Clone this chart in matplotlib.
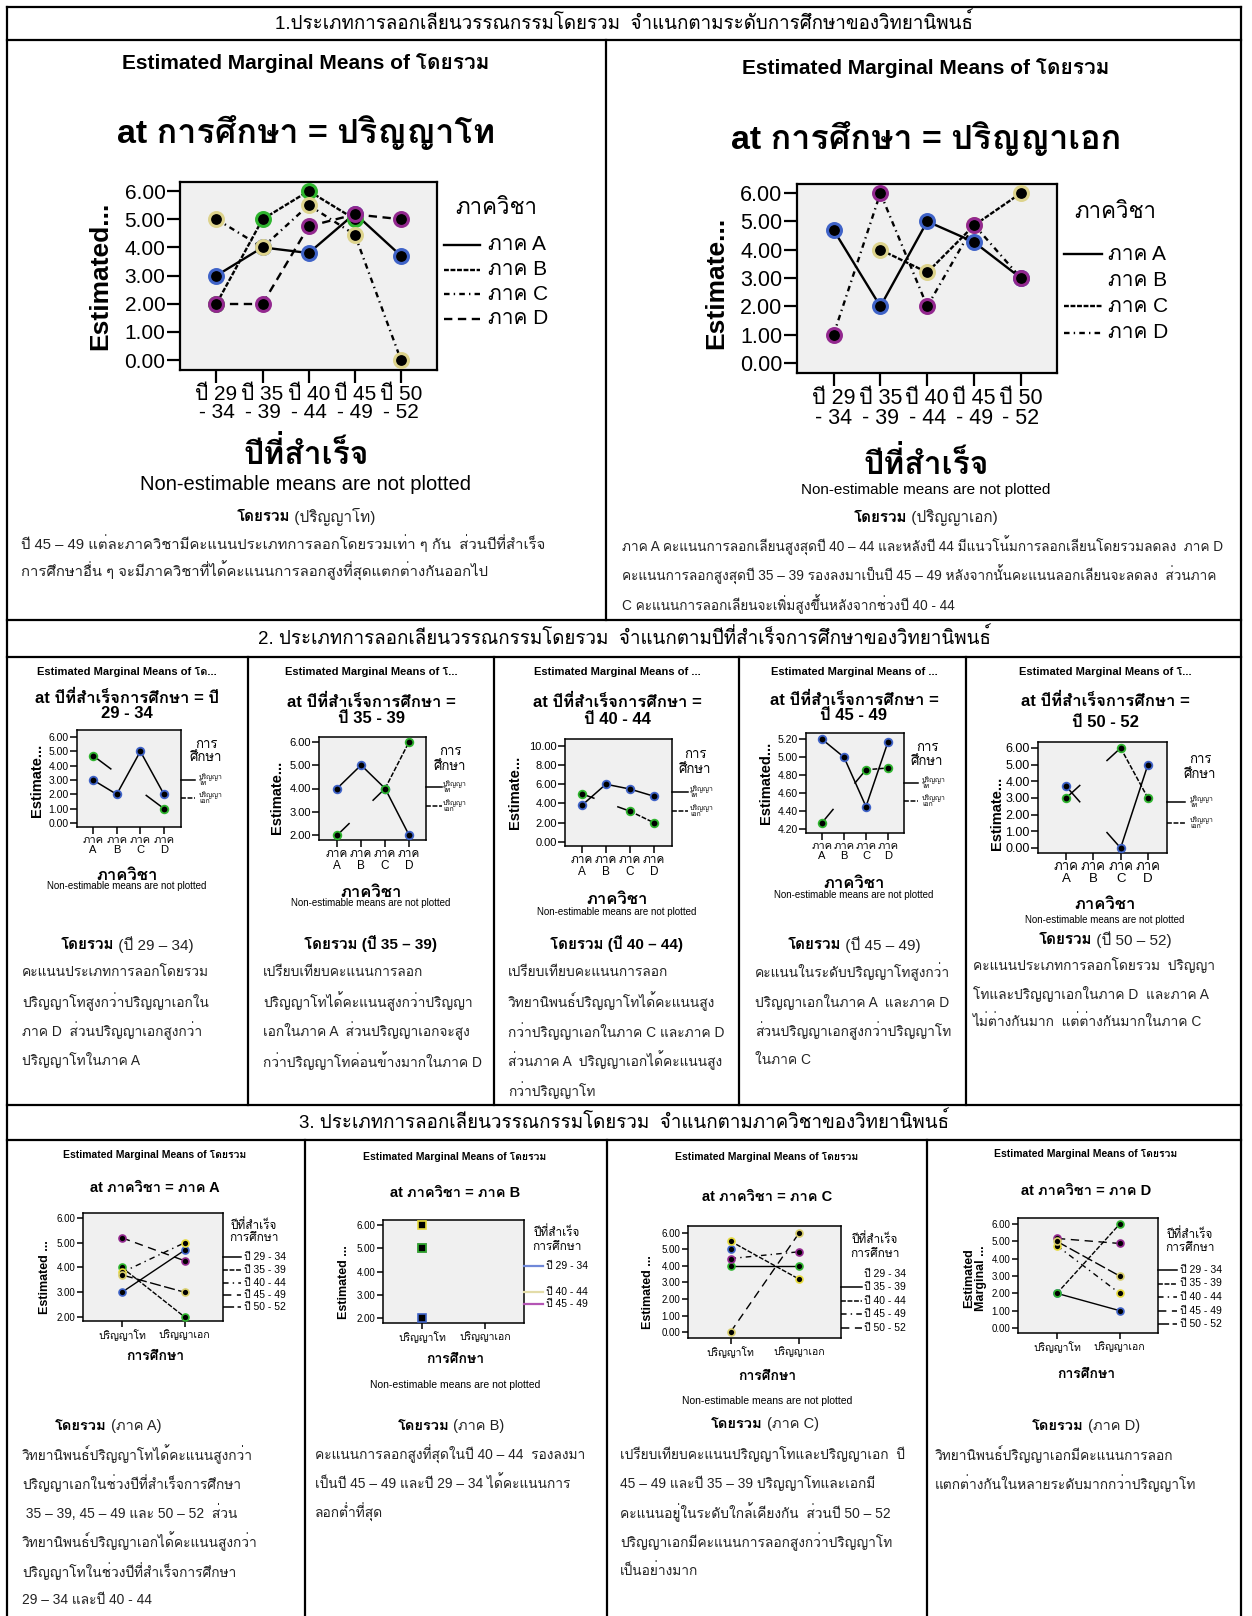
import numpy as np
import matplotlib
matplotlib.use("Agg")
import matplotlib.pyplot as plt
from matplotlib import font_manager
from matplotlib.ft2font import FT2Font
from matplotlib.lines import Line2D


def thai_families():
    # any installed face that really has Thai glyphs
    found = []
    for entry in font_manager.fontManager.ttflist:
        if entry.name in found:
            continue
        try:
            if 0x0E01 in FT2Font(entry.fname).get_charmap():
                found.append(entry.name)
        except Exception:
            pass
    return found


plt.rcParams["font.family"] = ["Liberation Sans"] + thai_families() + ["DejaVu Sans"]
plt.rcParams["lines.scale_dashes"] = False

nan = np.nan

years = ["ปี 29 - 34", "ปี 35 - 39", "ปี 40 - 44", "ปี 45 - 49", "ปี 50 - 52"]
depts = ["ภาค A", "ภาค B", "ภาค C", "ภาค D"]
degrees = ["ปริญญาโท", "ปริญญาเอก"]

# estimated marginal means of โดยรวม, one list per department, by year
master_A = [3.00, 4.00, 3.80, 5.20, 3.70]
master_B = [2.00, 5.00, 6.00, 5.00, nan]
master_C = [5.00, 4.00, 5.50, 4.45, 0.00]
master_D = [2.00, 2.00, 4.75, 5.17, 5.00]
doctor_A = [4.70, 2.00, 5.00, 4.27, 3.00]
doctor_B = [nan, nan, nan, nan, nan]
doctor_C = [nan, 4.00, 3.20, 4.86, 6.00]
doctor_D = [1.00, 6.00, 2.00, 4.88, 3.00]

master = np.array([master_A, master_B, master_C, master_D])
doctor = np.array([doctor_A, doctor_B, doctor_C, doctor_D])

dept_colors = ["#3f63c8", "#2fb52f", "#ddd38c", "#93288f"]
degree_colors = ["#3f63c8", "#2fb52f"]
year_colors = ["#3f63c8", "#2fb52f", "#e6da3a", "#93288f", "#d8cd6a"]
line_styles = ["-", (0, (3.5, 1.2)), (0, (4, 3, 1, 3)), (0, (6, 4)), (0, (8, 2.5))]

sec_titles = [
    "1.ประเภทการลอกเลียนวรรณกรรมโดยรวม  จำแนกตามระดับการศึกษาของวิทยานิพนธ์",
    "2. ประเภทการลอกเลียนวรรณกรรมโดยรวม  จำแนกตามปีที่สำเร็จการศึกษาของวิทยานิพนธ์",
    "3. ประเภทการลอกเลียนวรรณกรรมโดยรวม  จำแนกตามภาควิชาของวิทยานิพนธ์",
]

s1_notes = [
    ["ปี 45 – 49 แต่ละภาควิชามีคะแนนประเภทการลอกโดยรวมเท่า ๆ กัน  ส่วนปีที่สำเร็จ",
     "การศึกษาอื่น ๆ จะมีภาควิชาที่ได้คะแนนการลอกสูงที่สุดแตกต่างกันออกไป"],
    ["ภาค A คะแนนการลอกเลียนสูงสุดปี 40 – 44 และหลังปี 44 มีแนวโน้มการลอกเลียนโดยรวมลดลง  ภาค D",
     "คะแนนการลอกสูงสุดปี 35 – 39 รองลงมาเป็นปี 45 – 49 หลังจากนั้นคะแนนลอกเลียนจะลดลง  ส่วนภาค",
     "C คะแนนการลอกเลียนจะเพิ่มสูงขึ้นหลังจากช่วงปี 40 - 44"],
]
s2_notes = [
    ["คะแนนประเภทการลอกโดยรวม", "ปริญญาโทสูงกว่าปริญญาเอกใน",
     "ภาค D  ส่วนปริญญาเอกสูงกว่า", "ปริญญาโทในภาค A"],
    ["เปรียบเทียบคะแนนการลอก", "ปริญญาโทได้คะแนนสูงกว่าปริญญา",
     "เอกในภาค A  ส่วนปริญญาเอกจะสูง", "กว่าปริญญาโทค่อนข้างมากในภาค D"],
    ["เปรียบเทียบคะแนนการลอก", "วิทยานิพนธ์ปริญญาโทได้คะแนนสูง",
     "กว่าปริญญาเอกในภาค C และภาค D", "ส่วนภาค A  ปริญญาเอกได้คะแนนสูง", "กว่าปริญญาโท"],
    ["คะแนนในระดับปริญญาโทสูงกว่า", "ปริญญาเอกในภาค A  และภาค D",
     "ส่วนปริญญาเอกสูงกว่าปริญญาโท", "ในภาค C"],
    ["คะแนนประเภทการลอกโดยรวม  ปริญญา", "โทและปริญญาเอกในภาค D  และภาค A",
     "ไม่ต่างกันมาก  แต่ต่างกันมากในภาค C"],
]
s3_notes = [
    ["วิทยานิพนธ์ปริญญาโทได้คะแนนสูงกว่า", "ปริญญาเอกในช่วงปีที่สำเร็จการศึกษา",
     " 35 – 39, 45 – 49 และ 50 – 52  ส่วน", "วิทยานิพนธ์ปริญญาเอกได้คะแนนสูงกว่า",
     "ปริญญาโทในช่วงปีที่สำเร็จการศึกษา", "29 – 34 และปี 40 - 44"],
    ["คะแนนการลอกสูงที่สุดในปี 40 – 44  รองลงมา", "เป็นปี 45 – 49 และปี 29 – 34 ได้คะแนนการ",
     "ลอกต่ำที่สุด"],
    ["เปรียบเทียบคะแนนปริญญาโทและปริญญาเอก  ปี", "45 – 49 และปี 35 – 39 ปริญญาโทและเอกมี",
     "คะแนนอยู่ในระดับใกล้เคียงกัน  ส่วนปี 50 – 52", "ปริญญาเอกมีคะแนนการลอกสูงกว่าปริญญาโท",
     "เป็นอย่างมาก"],
    ["วิทยานิพนธ์ปริญญาเอกมีคะแนนการลอก", "แตกต่างกันในหลายระดับมากกว่าปริญญาโท"],
]

W, H = 1252, 1616
fig = plt.figure(figsize=(W / 100, H / 100), dpi=100)
fig.patch.set_facecolor("white")
renderer = fig.canvas.get_renderer()
NONEST = "Non-estimable means are not plotted"
EMM = "Estimated Marginal Means of "


def fx(x):
    return x / W


def fy(y):
    return 1 - y / H


def text(x, y, s, size, ha="center", weight="normal", rot=0, color="black", ls=1.0):
    return fig.text(fx(x), fy(y), s, fontsize=size, ha=ha, va="center",
                    fontweight=weight, rotation=rot, color=color, linespacing=ls)


def hline(y, x0, x1, lw=1.6, color="black", style="-"):
    fig.add_artist(Line2D([fx(x0), fx(x1)], [fy(y), fy(y)], transform=fig.transFigure,
                          color=color, lw=lw, ls=style))


def vline(x, y0, y1, lw=1.6):
    fig.add_artist(Line2D([fx(x), fx(x)], [fy(y0), fy(y1)], transform=fig.transFigure,
                          color="black", lw=lw))


def caption(xc, y, bold, rest, size):
    t1 = text(0, y, bold, size, ha="left", weight="bold")
    t2 = text(0, y, rest, size, ha="left", color="#222222")
    w1 = t1.get_window_extent(renderer).width
    w2 = t2.get_window_extent(renderer).width if rest else 0
    x0 = xc - (w1 + w2) / 2
    t1.set_x(fx(x0))
    t2.set_x(fx(x0 + w1))


def paragraph(x, y0, dy, lines, size):
    for i, s in enumerate(lines):
        text(x, y0 + i * dy, s, size, ha="left", color="#222222")


def panel(box, xlim, ylim, yticks, xlabels, tsize, xtsize, tlen, spw):
    x0, y0, x1, y1 = box
    ax = fig.add_axes([fx(x0), fy(y1), (x1 - x0) / W, (y1 - y0) / H])
    ax.set_facecolor("#f0f0f0")
    ax.set_xlim(xlim)
    ax.set_ylim(ylim)
    ax.set_xticks(range(len(xlabels)))
    ax.set_xticklabels(xlabels, fontsize=xtsize, linespacing=0.95)
    ax.set_yticks(yticks)
    ax.set_yticklabels([f"{v:.2f}" for v in yticks], fontsize=tsize)
    ax.tick_params(length=tlen, width=spw, pad=1, direction="out")
    for sp in ax.spines.values():
        sp.set_linewidth(spw)
    return ax


def assign_styles(rows):
    out, k = [], 0
    for vals in rows:
        if np.sum(~np.isnan(np.asarray(vals, dtype=float))) > 1:
            out.append(line_styles[k])
            k += 1
        else:
            out.append(None)
    return out


def draw_series(ax, vals, style, color, ms, mew, lw, marker="o", z=3):
    vals = np.asarray(vals, dtype=float)
    xs = [i for i, v in enumerate(vals) if not np.isnan(v)]
    ys = [vals[i] for i in xs]
    if not xs:
        return
    if style is not None:
        for xa, xb, ya, yb in zip(xs[:-1], xs[1:], ys[:-1], ys[1:]):
            if xb - xa == 1:
                ax.plot([xa, xb], [ya, yb], color="black", lw=lw, ls=style, zorder=2)
            else:
                # across a missing category SPSS keeps only a short piece at each end
                for a, b in ((0, 0.25), (0.75, 1)):
                    ax.plot([xa + a * (xb - xa), xa + b * (xb - xa)],
                            [ya + a * (yb - ya), ya + b * (yb - ya)],
                            color="black", lw=lw, zorder=2)
    ax.plot(xs, ys, ls="none", marker=marker, ms=ms, mfc="black", mec=color,
            mew=mew, zorder=z, clip_on=False)


def legend_rows(ys, labels, styles, xl0, xl1, xt, size, lw, colors=None, ls=1.0):
    for i, (y, lab, st) in enumerate(zip(ys, labels, styles)):
        if st is not None:
            c = colors[i] if colors is not None else "black"
            hline(y, xl0, xl1, lw=lw, color=c, style=st)
        text(xt, y, lab, size, ha="left", ls=ls)


# ---------------- table grid ----------------
L, R = 7, 1241
hline(7, L, R)
for y in (40, 620, 657, 1105, 1140):
    hline(y, L, R)
vline(L, 7, H)
vline(R, 7, H)
vline(606, 40, 620)
for x in (248, 494, 739, 966):
    vline(x, 657, 1105)
for x in (305, 607, 927):
    vline(x, 1140, H)

text(624, 23, sec_titles[0], 13.5)
text(624, 638, sec_titles[1], 13.5)
text(624, 1122, sec_titles[2], 13.5)

# ---------------- section 1: by degree ----------------
s1 = [
    dict(vals=master, box=(180, 182, 437, 370), xlim=(-0.79, 4.78), cx=306, emm_y=63,
         at_y=132, ylab="Estimated...", ylx=100, yly=276, tsize=15, xl_y=455, ne_y=484,
         ne_size=14.5, lg_title=(496, 209), lg_ys=[245, 269.5, 294, 318.5],
         lg_x=(444, 480, 488), cap_y=517, para=(21, 543, 27.5), psize=10.7),
    dict(vals=doctor, box=(797, 184, 1057, 373), xlim=(-0.78, 4.77), cx=926, emm_y=68,
         at_y=138, ylab="Estimate...", ylx=716, yly=283, tsize=15.5, xl_y=465, ne_y=490,
         ne_size=11, lg_title=(1115, 213), lg_ys=[254, 280, 306, 333],
         lg_x=(1064, 1102, 1108), cap_y=518, para=(622, 546, 29), psize=9.8),
]
for k, cfg in enumerate(s1):
    ax = panel(cfg["box"], cfg["xlim"], (-0.35, 6.32), [0, 1, 2, 3, 4, 5, 6],
               [y.replace(" - ", "\n- ") for y in years], cfg["tsize"], cfg["tsize"], 9.5, 1.6)
    styles = assign_styles(cfg["vals"])
    for d in range(len(depts)):
        draw_series(ax, cfg["vals"][d], styles[d], dept_colors[d], 10, 2.2, 1.7)
    text(cfg["cx"], cfg["emm_y"], EMM + "โดยรวม", 15, weight="bold")
    text(cfg["cx"], cfg["at_y"], "at การศึกษา = " + degrees[k], 24.5, weight="bold")
    text(cfg["ylx"], cfg["yly"], cfg["ylab"], 19, weight="bold", rot=90)
    text(cfg["cx"], cfg["xl_y"], "ปีที่สำเร็จ", 23, weight="bold")
    text(cfg["cx"], cfg["ne_y"], NONEST, cfg["ne_size"])
    text(cfg["lg_title"][0], cfg["lg_title"][1], "ภาควิชา", 16)
    xl0, xl1, xt = cfg["lg_x"]
    legend_rows(cfg["lg_ys"], depts, styles, xl0, xl1, xt, 15, 1.7)
    caption(cfg["cx"], cfg["cap_y"], "โดยรวม", " (" + degrees[k] + ")", 11)
    px, py, pdy = cfg["para"]
    paragraph(px, py, pdy, s1_notes[k], cfg["psize"])

# ---------------- section 2: by graduation year ----------------
s2 = [
    dict(box=(77, 730, 181, 827), xlim=(-0.68, 3.72), ylim=(-0.28, 6.49),
         yt=[0, 1, 2, 3, 4, 5, 6], ts=7.5, cx=127, emm="โด...", ylab="Estimate...",
         ylx=37, yly=780, at_y=(698, 713), xl_y=875, ne_y=886, lgt=(206, 745, 758),
         lgy=(780, 798), lgx=(181, 195, 199), cap_y=945, px=22, py=972, pdy=29.5),
    dict(box=(319, 737, 426, 840), xlim=(-0.75, 3.7), ylim=(1.8, 6.2),
         yt=[2, 3, 4, 5, 6], ts=8, cx=371, emm="โ...", ylab="Estimate...",
         ylx=277, yly=797, at_y=(702, 718), xl_y=892, ne_y=903, lgt=(450, 752, 767),
         lgy=(787, 806), lgx=(426, 442, 443), cap_y=943, px=263, py=972, pdy=29.5),
    dict(box=(565, 739, 672, 846), xlim=(-0.7, 3.75), ylim=(-0.42, 10.7),
         yt=[0, 2, 4, 6, 8, 10], ts=8, cx=617, emm="...", ylab="Estimate...",
         ylx=515, yly=792, at_y=(702, 720), xl_y=899, ne_y=912, lgt=(695, 755, 770),
         lgy=(792, 811), lgx=(672, 688, 690), cap_y=944, px=508, py=972, pdy=29.5),
    dict(box=(806, 733, 904, 833), xlim=(-0.73, 3.73), ylim=(4.155, 5.27),
         yt=[4.2, 4.4, 4.6, 4.8, 5.0, 5.2], ts=7.5, cx=854, emm="...", ylab="Estimated...",
         ylx=766, yly=783, at_y=(700, 716), xl_y=883, ne_y=895, lgt=(927, 748, 762),
         lgy=(783, 801), lgx=(904, 918, 922), cap_y=945, px=755, py=972, pdy=29.5),
    dict(box=(1038, 742, 1167, 853), xlim=(-1.03, 3.7), ylim=(-0.3, 6.36),
         yt=[0, 1, 2, 3, 4, 5, 6], ts=9, cx=1105, emm="โ...", ylab="Estimate...",
         ylx=997, yly=813, at_y=(701, 722), xl_y=904, ne_y=920, lgt=(1200, 760, 775),
         lgy=(802, 823), lgx=(1167, 1185, 1190), cap_y=940, px=973, py=965, pdy=28.5),
]
for k, cfg in enumerate(s2):
    ax = panel(cfg["box"], cfg["xlim"], cfg["ylim"], cfg["yt"],
               [d.replace(" ", "\n") for d in depts], cfg["ts"], cfg["ts"] + 0.5, 5, 1.1)
    rows = [master[:, k], doctor[:, k]]
    styles = assign_styles(rows)
    for j, vals in enumerate(rows):
        draw_series(ax, vals, styles[j], degree_colors[j], 5.5, 1.3, 1.1)
    text(cfg["cx"], 672, EMM + cfg["emm"], 8, weight="bold")
    if k == 0:
        at1, at2 = "at ปีที่สำเร็จการศึกษา = ปี", years[k].replace("ปี ", "")
    else:
        at1, at2 = "at ปีที่สำเร็จการศึกษา =", years[k]
    text(cfg["cx"], cfg["at_y"][0], at1, 12, weight="bold")
    text(cfg["cx"], cfg["at_y"][1], at2, 12, weight="bold")
    text(cfg["ylx"], cfg["yly"], cfg["ylab"], 10.5, weight="bold", rot=90)
    text(cfg["cx"], cfg["xl_y"], "ภาควิชา", 12, weight="bold")
    text(cfg["cx"], cfg["ne_y"], NONEST, 7)
    tx, ty1, ty2 = cfg["lgt"]
    text(tx, ty1, "การ", 9.5)
    text(tx, ty2, "ศึกษา", 9.5)
    xl0, xl1, xt = cfg["lgx"]
    legend_rows(cfg["lgy"], [d.replace("ญา", "ญา\n", 1) for d in degrees], styles,
                xl0, xl1, xt, 5, 1.1, ls=0.85)
    yr = years[k].replace(" - ", " – ")
    if k in (1, 2):
        caption(cfg["cx"], cfg["cap_y"], "โดยรวม (" + yr + ")", "", 11)
    else:
        caption(cfg["cx"], cfg["cap_y"], "โดยรวม", " (" + yr + ")", 11)
    paragraph(cfg["px"], cfg["py"], cfg["pdy"], s2_notes[k], 9.9)

# ---------------- section 3: by department ----------------
s3 = [
    dict(box=(83, 1213, 223, 1321), ylim=(1.84, 6.2), yt=[2, 3, 4, 5, 6], cx=155,
         emm_y=1155, at_y=1188, ylab="Estimated ...", ylx=45, yly=1277, xl_y=1356,
         ne_y=None, lgt=(254, 1226, 1238), lgy=[1257, 1270, 1283, 1295, 1307],
         lgx=(223, 241, 244), cap=(108, 1426), px=22),
    dict(box=(383, 1220, 524, 1323), ylim=(1.78, 6.22), yt=[2, 3, 4, 5, 6], cx=455,
         emm_y=1157, at_y=1193, ylab="Estimated ...", ylx=344, yly=1282, xl_y=1359,
         ne_y=1385, lgt=(557, 1233, 1247), lgy=[1266, 1279, 1292, 1304],
         lgx=(524, 543, 546), cap=(451, 1426), px=315),
    dict(box=(688, 1226, 841, 1338), ylim=(-0.36, 6.42), yt=[0, 1, 2, 3, 4, 5, 6], cx=767,
         emm_y=1157, at_y=1197, ylab="Estimated ...", ylx=648, yly=1292, xl_y=1376,
         ne_y=1401, lgt=(875, 1240, 1254), lgy=[1274, 1287, 1301, 1314, 1328],
         lgx=(841, 862, 864), cap=(765, 1424), px=620),
    dict(box=(1018, 1218, 1158, 1333), ylim=(-0.29, 6.35), yt=[0, 1, 2, 3, 4, 5, 6], cx=1086,
         emm_y=1154, at_y=1191, ylab="Estimated\nMarginal ...", ylx=975, yly=1278, xl_y=1374,
         ne_y=None, lgt=(1190, 1235, 1248), lgy=[1270, 1283.5, 1297, 1310.5, 1324],
         lgx=(1158, 1177, 1180), cap=(1086, 1426), px=935),
]
b_shown = [0, 2, 3]   # year rows SPSS kept in the ภาค B legend
for k, cfg in enumerate(s3):
    ax = panel(cfg["box"], (-0.62, 1.61), cfg["ylim"], cfg["yt"], degrees, 7, 7.5, 4.5, 1.1)
    rows = [[master[k, y], doctor[k, y]] for y in range(len(years))]
    styles = assign_styles(rows)
    only_points = all(s is None for s in styles)
    for y, vals in enumerate(rows):
        if only_points:
            draw_series(ax, vals, None, year_colors[y], 5.5, 1.2, 1.0, marker="s", z=8 - y)
        else:
            draw_series(ax, vals, styles[y], year_colors[y], 5, 1.2, 1.0)
    text(cfg["cx"], cfg["emm_y"], EMM + "โดยรวม", 7.5, weight="bold")
    text(cfg["cx"], cfg["at_y"], "at ภาควิชา = " + depts[k], 10.5, weight="bold")
    text(cfg["ylx"], cfg["yly"], cfg["ylab"], 9, weight="bold", rot=90, ls=0.95)
    text(cfg["cx"], cfg["xl_y"], "การศึกษา", 10, weight="bold")
    if cfg["ne_y"] is not None:
        text(cfg["cx"], cfg["ne_y"], NONEST, 7.5)
    tx, ty1, ty2 = cfg["lgt"]
    text(tx, ty1, "ปีที่สำเร็จ", 8.5)
    text(tx, ty2, "การศึกษา", 8.5)
    xl0, xl1, xt = cfg["lgx"]
    if only_points:
        ys = [cfg["lgy"][i] for i in b_shown]
        legend_rows(ys, [years[i] for i in b_shown], ["-"] * len(b_shown), xl0, xl1, xt,
                    7.5, 1.6, colors=["#7088d8", "#e3dca8", "#b455b4"])
    else:
        legend_rows(cfg["lgy"], years, styles, xl0, xl1, xt, 7.5, 1.1)
    caption(cfg["cap"][0], cfg["cap"][1], "โดยรวม", " (" + depts[k] + ")", 10.5)
    paragraph(cfg["px"], 1454, 29.2, s3_notes[k], 9.9)

fig.savefig("out.png", dpi=100, facecolor="white")
